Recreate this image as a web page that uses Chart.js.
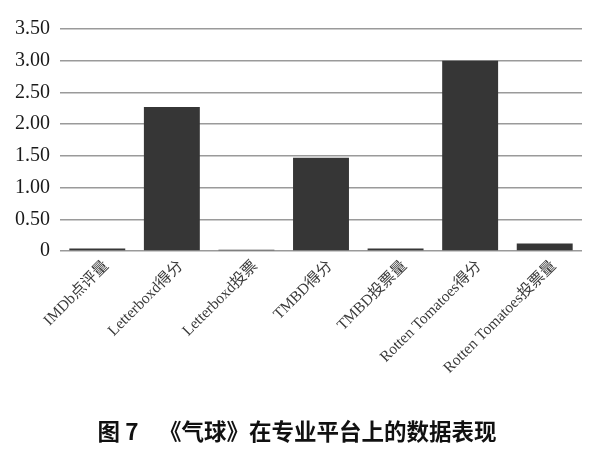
<!DOCTYPE html>
<html>
<head>
<meta charset="utf-8">
<script src="https://cdn.jsdelivr.net/npm/chart.js@4/dist/chart.umd.min.js"></script>
<style>
  html, body { margin: 0; padding: 0; background: #fff; }
  #wrap { width: 600px; height: 472px; }
</style>
</head>
<body>
<div id="wrap"><canvas id="barChart"></canvas></div>
<script>
const categories = [
    'IMDb点评量', 'Letterboxd得分', 'Letterboxd投票', 'TMBD得分',
    'TMBD投票量', 'Rotten Tomatoes得分', 'Rotten Tomatoes投票量'
];
const values = [0.04, 2.27, 0.02, 1.47, 0.04, 3.00, 0.12];
const yTicks = [0, 0.5, 1, 1.5, 2, 2.5, 3, 3.5];
const chartTitle = '图 7    《气球》在专业平台上的数据表现';

const serif = "'Liberation Serif', 'Times New Roman', 'Noto Sans CJK SC', serif";

document.addEventListener('DOMContentLoaded', function () {
    const ctx = document.getElementById('barChart').getContext('2d');
    new Chart(ctx, {
        type: 'bar',
        data: {
            labels: categories,
            datasets: [{
                data: values,
                backgroundColor: '#363636',
                barPercentage: 0.75,
                categoryPercentage: 1
            }]
        },
        options: {
            responsive: true,
            maintainAspectRatio: false,
            animation: false,
            layout: { padding: { left: 12, right: 18, top: 29, bottom: 0 } },
            plugins: {
                legend: { display: false },
                tooltip: { enabled: false },
                title: {
                    display: true,
                    text: chartTitle,
                    position: 'bottom',
                    color: '#111',
                    font: { family: "'Noto Sans CJK SC', sans-serif", size: 22.5, weight: 'bold' },
                    padding: { top: 27, bottom: 27 }
                }
            },
            scales: {
                x: {
                    grid: { display: false, drawTicks: false },
                    border: { display: false },
                    afterFit: function (axis) { axis.height = 140; },
                    ticks: {
                        color: '#3a3a3a',
                        maxRotation: 45,
                        minRotation: 45,
                        padding: 6,
                        labelOffset: 9,
                        font: { family: serif, size: 15.5 }
                    }
                },
                y: {
                    min: 0,
                    max: 3.5,
                    afterBuildTicks: function (axis) {
                        axis.ticks = yTicks.map(v => ({ value: v }));
                    },
                    afterFit: function (axis) { axis.width = 48; },
                    grid: { color: '#9a9a9a', lineWidth: 1.5, drawTicks: false },
                    border: { display: false },
                    ticks: {
                        color: '#1a1a1a',
                        padding: 10,
                        font: { family: serif, size: 20 },
                        callback: v => v === 0 ? '0' : v.toFixed(2)
                    }
                }
            }
        }
    });
});
</script>
</body>
</html>
